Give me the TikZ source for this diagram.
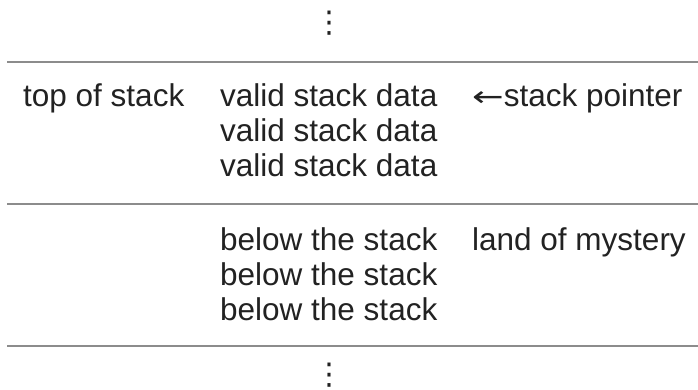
\documentclass[tikz,border=0pt]{standalone}
\usepackage{fontspec}
\setmainfont{Liberation Sans}
\newfontfamily\dotsfont{DejaVu Sans}
\definecolor{txt}{HTML}{222222}
\definecolor{rule}{HTML}{8C8C8C}
\begin{document}
\begin{tikzpicture}[x=1pt,y=-1pt,
  lbl/.style={anchor=base west,inner sep=0pt,text=txt,font=\fontsize{31.5}{35}\selectfont},
  vd/.style={inner sep=0pt,text=txt,font=\dotsfont\fontsize{30}{30}\selectfont},
  sep/.style={draw=rule,line width=2pt}]
\useasboundingbox[fill=white] (0,0) rectangle (698,390);
% separators
\coordinate (l1a) at (7,62);  \coordinate (l1b) at (698,62);
\coordinate (l2a) at (7,204); \coordinate (l2b) at (698,204);
\coordinate (l3a) at (7,346); \coordinate (l3b) at (698,346);
\draw[sep] (l1a) -- (l1b);
\draw[sep] (l2a) -- (l2b);
\draw[sep] (l3a) -- (l3b);
% vertical dots
\node[vd] (dtop) at (329,23) {⋮};
\node[vd] (dbot) at (329,375) {⋮};
% top section
\node[lbl] (tos) at (23,107) {top of stack};
\node[lbl] (v1) at (220,107) {valid stack data};
\node[lbl] (v2) at (220,142) {valid stack data};
\node[lbl] (v3) at (220,177) {valid stack data};
\node[lbl] (sp) at (472,107) {{\dotsfont\scalebox{1.2}[0.9]{←}}stack pointer};
% lower section
\node[lbl] (b1) at (220,250) {below the stack};
\node[lbl] (b2) at (220,285) {below the stack};
\node[lbl] (b3) at (220,320) {below the stack};
\node[lbl] (lm) at (472,250) {land of mystery};
\end{tikzpicture}
\end{document}
